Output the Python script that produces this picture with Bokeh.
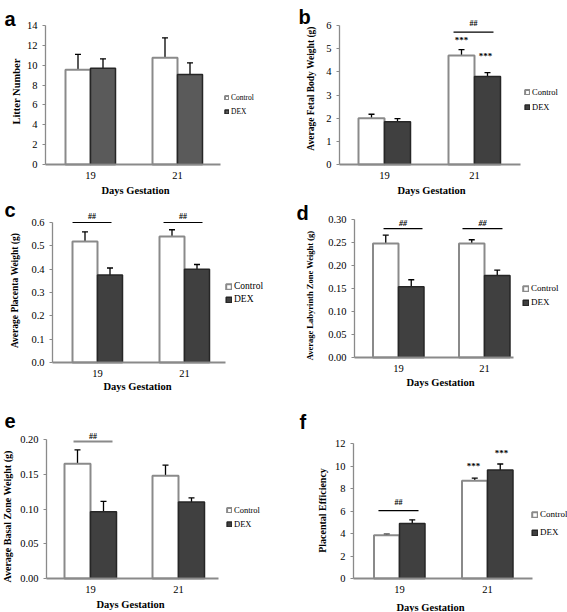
import math
from bokeh.plotting import figure
from bokeh.models import (ColumnDataSource, FixedTicker, Range1d, Legend, LegendItem,
                          Whisker, TeeHead, PrintfTickFormatter)
from bokeh.layouts import column, row
from bokeh.embed import file_html
from bokeh.resources import INLINE
from bokeh.core.properties import value

SERIF = "Liberation Serif"
SANS = "Liberation Sans"

days = ["19", "21"]
series = ["Control", "DEX"]
x_title = "Days Gestation"

# (a) Litter number
litter_control = [9.54, 10.74]
litter_control_sem = [1.56, 2.02]
litter_dex = [9.70, 9.06]
litter_dex_sem = [0.94, 1.18]
litter_ticks = [0, 2, 4, 6, 8, 10, 12, 14]

# (b) Average fetal body weight (g)
fetal_control = [2.00, 4.70]
fetal_control_sem = [0.17, 0.26]
fetal_dex = [1.84, 3.80]
fetal_dex_sem = [0.14, 0.17]
fetal_ticks = [0, 1, 2, 3, 4, 5, 6]
fetal_brackets = [(0.767, 1.211, 5.71, "##")]
fetal_stars = [(0.856, 5.38, "***"), (1.122, 4.70, "***")]

# (c) Average placenta weight (g)
placenta_control = [0.519, 0.540]
placenta_control_sem = [0.041, 0.029]
placenta_dex = [0.375, 0.400]
placenta_dex_sem = [0.030, 0.020]
placenta_ticks = [0.0, 0.1, 0.2, 0.3, 0.4, 0.5, 0.6]
placenta_brackets = [(-0.287, 0.161, 0.60, "##"), (0.759, 1.207, 0.60, "##")]

# (d) Average labyrinth zone weight (g)
labyrinth_control = [0.248, 0.248]
labyrinth_control_sem = [0.018, 0.008]
labyrinth_dex = [0.154, 0.178]
labyrinth_dex_sem = [0.015, 0.012]
labyrinth_ticks = [0.0, 0.05, 0.10, 0.15, 0.20, 0.25, 0.30]
labyrinth_brackets = [(-0.174, 0.279, 0.28, "##"), (0.744, 1.209, 0.28, "##")]

# (e) Average basal zone weight (g)
basal_control = [0.165, 0.148]
basal_control_sem = [0.020, 0.015]
basal_dex = [0.096, 0.110]
basal_dex_sem = [0.015, 0.006]
basal_ticks = [0.0, 0.05, 0.10, 0.15, 0.20]
basal_brackets = [(-0.193, 0.25, 0.197, "##")]

# (f) Placental efficiency
eff_control = [3.84, 8.70]
eff_control_sem = [0.11, 0.22]
eff_dex = [4.89, 9.65]
eff_dex_sem = [0.33, 0.53]
eff_ticks = [0, 2, 4, 6, 8, 10, 12]
eff_brackets = [(-0.239, 0.216, 6.04, "##")]
eff_stars = [(0.84, 9.96, "***"), (1.16, 11.2, "***")]

GRAY = "#8a8a8a"


def make_panel(P):
    W, H = P["w"], P["h"]
    c1, c2 = P["centers"]
    s = float(c2 - c1)                 # px per group unit
    k = (P["zero"] - P["top_px"]) / P["yticks"][-1]   # px per y unit
    x0, x1 = -c1 / s, (W - c1) / s
    y0, y1 = -(H - P["zero"]) / k, P["zero"] / k

    def X(px):
        return x0 + px / W * (x1 - x0)

    def Y(py):
        return y1 - py / H * (y1 - y0)

    p = figure(width=W, height=H, output_backend="svg", toolbar_location=None,
               x_range=Range1d(x0, x1), y_range=Range1d(y0, y1),
               min_border_left=0, min_border_right=0, min_border_top=0, min_border_bottom=0)
    p.outline_line_color = None
    p.grid.visible = False
    p.background_fill_color = "white"
    p.border_fill_color = "white"

    bw = P["bar_px"] / s
    xs = list(range(len(days)))
    cm, cs = P["ctrl"]
    dm, ds = P["dex"]
    csrc = ColumnDataSource(dict(x=[i - bw / 2 for i in xs], top=cm,
                                 upper=[m + e for m, e in zip(cm, cs)]))
    dsrc = ColumnDataSource(dict(x=[i + bw / 2 for i in xs], top=dm,
                                 upper=[m + e for m, e in zip(dm, ds)]))
    rc = p.vbar(x="x", top="top", width=bw, source=csrc, fill_color="white",
                line_color=GRAY, line_width=2)
    rd = p.vbar(x="x", top="top", width=bw, source=dsrc, fill_color=P["dex_color"],
                line_color="#262626", line_width=1.5)
    for src in (csrc, dsrc):
        p.add_layout(Whisker(source=src, base="x", lower="top", upper="upper",
                             line_color="black", line_width=1.3, lower_head=None,
                             upper_head=TeeHead(size=6, line_color="black", line_width=1.3)))

    br = P.get("brackets", [])
    if br:
        bsrc = ColumnDataSource(dict(x0=[q[0] for q in br], x1=[q[1] for q in br],
                                     y=[q[2] for q in br],
                                     xm=[(q[0] + q[1]) / 2 for q in br],
                                     ty=[q[2] + P["tgap"] / k for q in br],
                                     txt=[q[3] for q in br]))
        p.segment(x0="x0", y0="y", x1="x1", y1="y", source=bsrc,
                  line_color=P.get("bcolor", "black"), line_width=P.get("bwidth", 1.2))
        p.text(x="xm", y="ty", text="txt", source=bsrc, text_align="center",
               text_baseline="bottom", text_font=value(SERIF), text_font_size="8px",
               text_font_style=P.get("tstyle", "bold"), text_color="black")
    st = P.get("stars", [])
    if st:
        ssrc = ColumnDataSource(dict(x=[q[0] for q in st], y=[q[1] for q in st],
                                     txt=[q[2] for q in st]))
        p.text(x="x", y="y", text="txt", source=ssrc, text_align="center",
               text_baseline="middle", text_font=value(SERIF), text_font_size="9px",
               text_font_style="bold", text_color="black")

    # axes, fixed at the data origin inside the frame
    xa = p.xaxis[0]
    xa.fixed_location = 0
    xa.bounds = (X(P["ax_l"]), X(P["ax_r"]))
    xa.ticker = FixedTicker(ticks=xs)
    xa.major_label_overrides = {i: d for i, d in enumerate(days)}
    xa.major_label_text_font = SERIF
    xa.major_label_text_font_size = "10.5px"
    xa.major_label_text_color = "black"
    xa.major_tick_line_color = None
    xa.minor_tick_line_color = None
    xa.major_tick_out = 0
    xa.major_tick_in = 0
    xa.axis_line_color = GRAY
    xa.axis_line_width = 2
    xa.major_label_standoff = 7

    ya = p.yaxis[0]
    ya.fixed_location = X(P["ax_l"])
    ya.bounds = (0, P["yticks"][-1])
    ya.ticker = FixedTicker(ticks=P["yticks"])
    ya.formatter = PrintfTickFormatter(format=P["fmt"])
    ya.major_label_text_font = SERIF
    ya.major_label_text_font_size = "10.5px"
    ya.major_label_text_color = "black"
    ya.major_tick_out = 3
    ya.major_tick_in = 0
    ya.major_tick_line_color = GRAY
    ya.minor_tick_line_color = None
    ya.axis_line_color = GRAY
    ya.axis_line_width = 1.3
    ya.major_label_standoff = 5

    # axis titles and panel letter
    tx, ty = P["xtitle"]
    p.text(x=[X(tx)], y=[Y(ty)], text=[x_title], text_align="center", text_baseline="middle",
           text_font=value(SERIF), text_font_style="bold", text_font_size="10.5px",
           text_color="black")
    lx, ly = P["ytitle"]
    p.text(x=[X(lx)], y=[Y(ly)], text=[P["ylabel"]], angle=math.pi / 2, text_align="center",
           text_baseline="middle", text_font=value(SERIF), text_font_style="bold",
           text_font_size=P["ylsize"], text_color="black")
    gx, gy = P["letter"]
    p.text(x=[X(gx)], y=[Y(gy)], text=[P["letter_text"]], text_align="left",
           text_baseline="alphabetic", text_font=value(SANS), text_font_style="bold",
           text_font_size="20px", text_color="black")

    vx, vy, sp, fs, gs = P["legend"]
    legend = Legend(items=[LegendItem(label=series[0], renderers=[rc]),
                           LegendItem(label=series[1], renderers=[rd])],
                    location=(vx, vy), orientation="vertical", glyph_width=gs, glyph_height=gs,
                    label_height=gs, label_standoff=2, spacing=sp, padding=0, margin=0,
                    border_line_color=None, background_fill_alpha=0,
                    label_text_font=SERIF, label_text_font_size=fs,
                    label_text_color="black")
    p.add_layout(legend, "center")
    return p


pa = make_panel(dict(w=285, h=196, ax_l=45, ax_r=220, centers=(90, 177), zero=164, top_px=25,
                     bar_px=25, yticks=litter_ticks, fmt="%d", ylabel="Litter Number",
                     ylsize="10.5px", ctrl=(litter_control, litter_control_sem),
                     dex=(litter_dex, litter_dex_sem), dex_color="#5a5a5a",
                     letter=(4, 18), ytitle=(16, 91), xtitle=(135, 190),
                     legend=(224, 80, 5, "7.5px", 5), letter_text="a"))

pb = make_panel(dict(w=282, h=196, ax_l=54, ax_r=235, centers=(99, 189), zero=164, top_px=25,
                     bar_px=26, yticks=fetal_ticks, fmt="%d",
                     ylabel="Average Fetal Body Weight (g)", ylsize="9.5px",
                     ctrl=(fetal_control, fetal_control_sem), dex=(fetal_dex, fetal_dex_sem),
                     dex_color="#404040", brackets=fetal_brackets, tgap=4,
                     stars=fetal_stars, letter=(13, 16), ytitle=(25, 88), xtitle=(146, 190),
                     legend=(239, 84, 5, "8.5px", 6), letter_text="b"))

pc = make_panel(dict(w=285, h=212, ax_l=52, ax_r=225, centers=(97, 184), zero=166, top_px=26,
                     bar_px=25, yticks=placenta_ticks, fmt="%.1f",
                     ylabel="Average Placenta Weight (g)", ylsize="9.5px",
                     ctrl=(placenta_control, placenta_control_sem),
                     dex=(placenta_dex, placenta_dex_sem), dex_color="#404040",
                     brackets=placenta_brackets, tgap=2, letter=(4, 13), ytitle=(14, 94),
                     xtitle=(137, 190), legend=(225, 104, 3, "9.5px", 7), letter_text="c"))

pd_ = make_panel(dict(w=282, h=212, ax_l=69, ax_r=228, centers=(113, 199), zero=161, top_px=23,
                      bar_px=25.5, yticks=labyrinth_ticks, fmt="%.2f",
                      ylabel="Average Labyrinth Zone Weight (g)", ylsize="8.5px",
                      ctrl=(labyrinth_control, labyrinth_control_sem),
                      dex=(labyrinth_dex, labyrinth_dex_sem), dex_color="#404040",
                      brackets=labyrinth_brackets, tgap=1, tstyle="bold italic",
                      letter=(11, 16), ytitle=(24, 99), xtitle=(155, 186),
                      legend=(237, 101, 4, "9px", 7), letter_text="d"))

pe = make_panel(dict(w=285, h=204, ax_l=46, ax_r=218, centers=(90, 178), zero=170, top_px=31,
                     bar_px=26, yticks=basal_ticks, fmt="%.2f",
                     ylabel="Average Basal Zone Weight (g)", ylsize="10px",
                     ctrl=(basal_control, basal_control_sem), dex=(basal_dex, basal_dex_sem),
                     dex_color="#404040", brackets=basal_brackets, tgap=1,
                     bcolor=GRAY, bwidth=2, letter=(4, 12), ytitle=(7, 108),
                     xtitle=(130, 196), legend=(226, 83, 4, "8.5px", 6), letter_text="e"))

pf = make_panel(dict(w=282, h=204, ax_l=68, ax_r=247, centers=(114, 202), zero=170, top_px=35,
                     bar_px=25.5, yticks=eff_ticks, fmt="%d", ylabel="Placental Efficiency",
                     ylsize="10px", ctrl=(eff_control, eff_control_sem),
                     dex=(eff_dex, eff_dex_sem), dex_color="#404040", brackets=eff_brackets,
                     tgap=4, stars=eff_stars, letter=(14, 13), ytitle=(37, 102),
                     xtitle=(145, 199), legend=(246, 75, 8, "9px", 7), letter_text="f"))

layout = column(row(pa, pb), row(pc, pd_), row(pe, pf))
open("out.html", "w").write(file_html(layout, INLINE))
